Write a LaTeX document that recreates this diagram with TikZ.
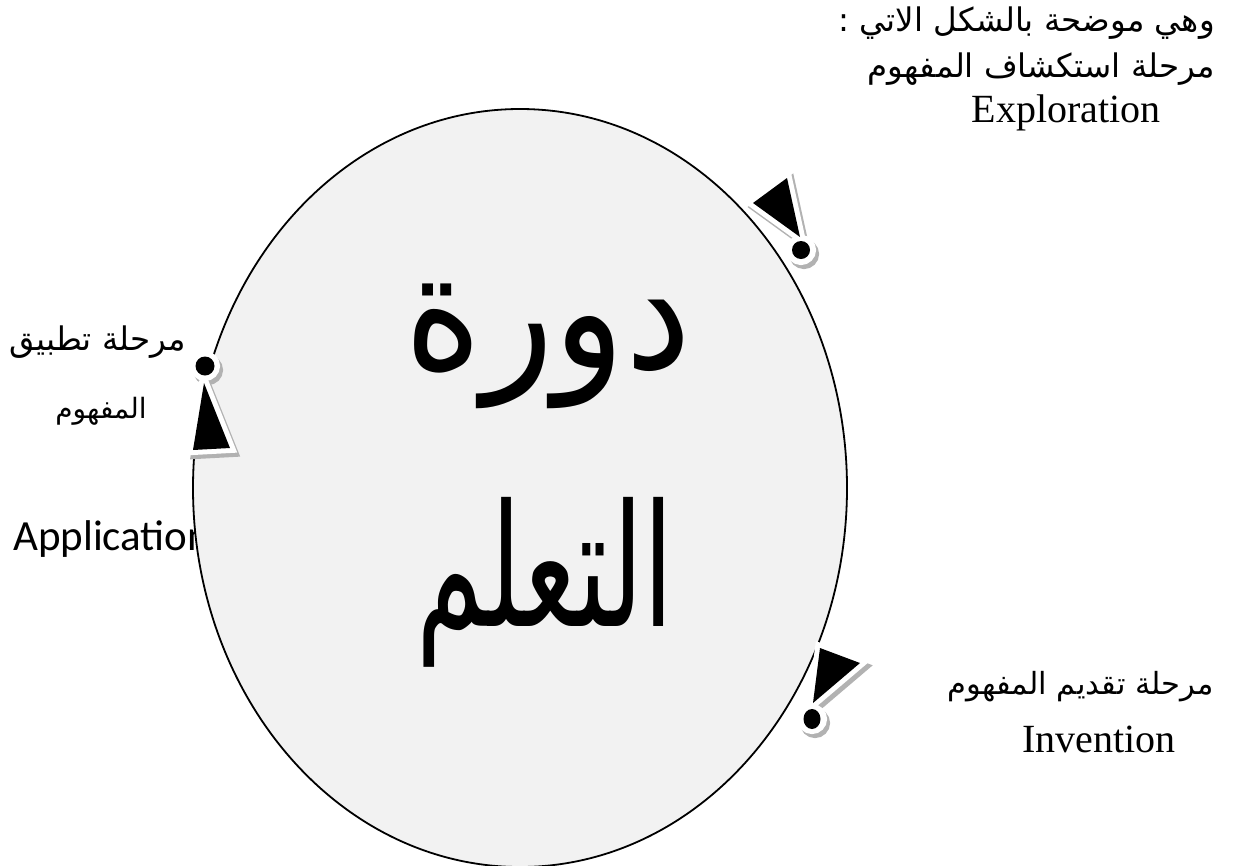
\documentclass[tikz,border=0pt]{standalone}
\usepackage{fontspec}
\setmainfont{Liberation Serif}
\newfontfamily\arabicfont[Script=Arabic]{DejaVu Sans}
\newfontfamily\calibrifont{Carlito}
\TeXXeTstate=1
\usepackage{tikz}
\usetikzlibrary{positioning}
\definecolor{cyclegray}{HTML}{F2F2F2}
\tikzset{
  cyclebody/.style={
    draw,
    line width=1.8pt,
    fill=cyclegray,
  },
  arlabel/.style={
    inner sep=0pt,
    font=\arabicfont\fontsize{32.5}{38}\selectfont,
  },
  arsmall/.style={
    inner sep=0pt,
    font=\arabicfont\fontsize{28}{32}\selectfont,
  },
  arbig/.style={
    inner sep=0pt,
    font=\arabicfont\fontsize{165}{180}\selectfont,
  },
  enlabel/.style={
    inner sep=0pt,
    font=\fontsize{40}{48}\selectfont,
  },
  ensans/.style={
    inner sep=0pt,
    font=\calibrifont\fontsize{43}{50}\selectfont,
  },
  markshade/.style={fill=black!30, draw=black!30, line width=10pt, miter limit=4},
  markrim/.style={fill=white, draw=white, line width=10pt, miter limit=4},
  markhead/.style={fill=black},
}

\begin{document}
\begin{tikzpicture}[x=1pt,y=-1pt]
  \useasboundingbox (0,0) rectangle (1234,865);
  \fill[white] (0,0) rectangle (1234,865);

  % english label sits under the cycle
  \node[ensans, anchor=base west] (appl) at (13,550) {Application};

  % the learning cycle
  \draw[cyclebody] (520,488) ellipse [x radius=327, y radius=379];
  \node[arbig, anchor=base] (cycleword) at (548,368) {\scalebox{0.9}[1]{\beginR دورة\endR}};
  \node[arbig, anchor=base] (learnword) at (545,626) {\fontsize{170}{180}\selectfont\scalebox{0.64}[1]{\beginR التعلم\endR}};

  % exploration mark
  \filldraw[markshade, xshift=3pt, yshift=-4pt] (753,203) -- (787,178) -- (800,237) -- cycle;
  \filldraw[markshade, xshift=3pt, yshift=-4pt] (801,250) circle [radius=10];
  \filldraw[markrim] (753,203) -- (787,178) -- (800,237) -- cycle;
  \filldraw[markrim] (801,250) circle [radius=10];
  \fill[markhead] (753,203) -- (787,178) -- (800,237) -- cycle;
  \fill[markhead] (801,250) circle [radius=9];

  % application mark
  \filldraw[markshade, xshift=3pt, yshift=-4pt] (204,383) -- (193,450) -- (230,448) -- cycle;
  \filldraw[markshade, xshift=3pt, yshift=-4pt] (205,366) circle [radius=10];
  \filldraw[markrim] (204,383) -- (193,450) -- (230,448) -- cycle;
  \filldraw[markrim] (205,366) circle [radius=10];
  \fill[markhead] (204,383) -- (193,450) -- (230,448) -- cycle;
  \fill[markhead] (205,366) circle [radius=9.5];

  % invention mark
  \filldraw[markshade, xshift=3pt, yshift=-4pt] (820,648) -- (860,663) -- (813,703) -- cycle;
  \filldraw[markshade, xshift=3pt, yshift=-4pt] (812,719) circle [radius=10];
  \filldraw[markrim] (820,648) -- (860,663) -- (813,703) -- cycle;
  \filldraw[markrim] (812,719) circle [radius=10];
  \fill[markhead] (820,648) -- (860,663) -- (813,703) -- cycle;
  \fill[markhead] (812,719) ellipse [x radius=8.5, y radius=10];

  % phase labels
  \node[arlabel, anchor=base east] (introline) at (1215,31) {\beginR وهي موضحة بالشكل الاتي :\endR};
  \node[arlabel, anchor=base east] (explphase) at (1215,77) {\beginR مرحلة استكشاف المفهوم\endR};
  \node[enlabel, anchor=base] (expl) at (1066,122) {Exploration};

  \node[arlabel, anchor=base east] (applphase) at (186,350) {\beginR مرحلة تطبيق\endR};
  \node[arsmall, anchor=base] (applconcept) at (101,418) {\beginR المفهوم\endR};

  \node[arlabel, font=\arabicfont\fontsize{30.5}{36}\selectfont, anchor=base east] (invphase) at (1214,694) {\beginR مرحلة تقديم المفهوم\endR};
  \node[enlabel, anchor=base] (inv) at (1099,752) {Invention};
\end{tikzpicture}
\end{document}
